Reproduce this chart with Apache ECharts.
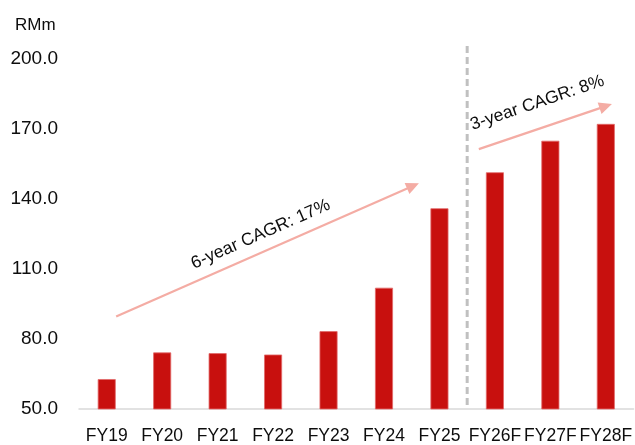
<!DOCTYPE html>
<html>
<head>
<meta charset="utf-8">
<style>
  html, body { margin: 0; padding: 0; background: #fff; }
  #chart { width: 635px; height: 445px; }
</style>
<script src="https://cdn.jsdelivr.net/npm/echarts@6/dist/echarts.min.js"></script>
</head>
<body>
<div id="chart"></div>
<script>
// Revenue by fiscal year, RM million (FY26F onwards are forecasts)
const categories = ['FY19', 'FY20', 'FY21', 'FY22', 'FY23', 'FY24', 'FY25', 'FY26F', 'FY27F', 'FY28F'];
const revenue = [62.8, 74.2, 73.9, 73.3, 83.3, 101.9, 135.9, 151.3, 164.8, 172.0];
const yTicks = { min: 50, max: 200, step: 30 };
const unitLabel = 'RMm';

// Growth annotations: arrow ends given as [category position, value]
const cagrNotes = [
  { text: '6-year CAGR: 17%', from: [0.17, 89.6], to: [5.63, 146.6], lift: 17 },
  { text: '3-year CAGR: 8%',  from: [6.71, 161.2], to: [9.11, 180.5], lift: 25 }
];
// Boundary between actuals and forecasts (between FY25 and FY26F)
const forecastSplit = { pos: 6.5, from: 51.7, to: 206.6 };

const FONT = "'Liberation Sans', Arial, sans-serif";
const chart = echarts.init(document.getElementById('chart'), null, { renderer: 'canvas' });

chart.setOption({
  animation: false,
  grid: { left: 79, right: 0, top: 58.5, bottom: 35.7, containLabel: false },
  xAxis: [
    {
      type: 'category',
      data: categories,
      axisLine: { lineStyle: { color: '#d9d9d9', width: 1.5 } },
      axisTick: { show: false },
      axisLabel: { color: '#0d0d0d', fontSize: 17.5, fontFamily: FONT, margin: 18, interval: 0 }
    },
    {
      // hidden continuous axis used to place annotations between categories
      type: 'value', min: -0.5, max: categories.length - 0.5, show: false
    }
  ],
  yAxis: {
    type: 'value',
    min: yTicks.min,
    max: yTicks.max,
    interval: yTicks.step,
    splitLine: { show: false },
    axisLine: { show: false },
    axisTick: { show: false },
    axisLabel: {
      color: '#0d0d0d', fontSize: 19, fontFamily: FONT, margin: 21,
      formatter: v => v.toFixed(1)
    }
  },
  series: [{
    type: 'bar',
    data: revenue,
    barWidth: 18,
    itemStyle: { color: '#c8100e', borderColor: '#e2696a', borderWidth: 0.8 }
  }]
});

function toPx(pos, val) {
  return [
    chart.convertToPixel({ xAxisIndex: 1 }, pos),
    chart.convertToPixel({ yAxisIndex: 0 }, val)
  ];
}

const elements = [];

// unit caption above the value axis
elements.push({
  type: 'text', left: 15, top: 17,
  style: { text: unitLabel, fill: '#0d0d0d', font: '17px ' + FONT }
});

// dashed divider
const d0 = toPx(forecastSplit.pos, forecastSplit.from);
const d1 = toPx(forecastSplit.pos, forecastSplit.to);
elements.push({
  type: 'line',
  shape: { x1: d0[0], y1: d0[1], x2: d1[0], y2: d1[1] },
  style: { stroke: '#c0c0c0', lineWidth: 3, lineDash: [7, 4] }
});

// CAGR arrows with their captions
cagrNotes.forEach(n => {
  const a = toPx(n.from[0], n.from[1]);
  const b = toPx(n.to[0], n.to[1]);
  const dx = b[0] - a[0], dy = b[1] - a[1];
  const len = Math.hypot(dx, dy);
  const ux = dx / len, uy = dy / len;
  const head = 13, half = 6;
  const baseX = b[0] - ux * head, baseY = b[1] - uy * head;
  elements.push({
    type: 'line',
    shape: { x1: a[0], y1: a[1], x2: baseX + ux * 2, y2: baseY + uy * 2 },
    style: { stroke: '#f4aca4', lineWidth: 2.2 }
  });
  elements.push({
    type: 'polygon',
    shape: { points: [
      [b[0], b[1]],
      [baseX - uy * half, baseY + ux * half],
      [baseX + uy * half, baseY - ux * half]
    ] },
    style: { fill: '#f4aca4' }
  });
  const angle = Math.atan2(-dy, dx);
  const mx = (a[0] + b[0]) / 2 + uy * n.lift;
  const my = (a[1] + b[1]) / 2 - ux * n.lift;
  elements.push({
    type: 'text',
    x: mx, y: my,
    rotation: angle,
    style: {
      text: n.text, fill: '#0d0d0d', font: '17.5px ' + FONT,
      align: 'center', verticalAlign: 'middle'
    }
  });
});

chart.setOption({ graphic: { elements } });
</script>
</body>
</html>
